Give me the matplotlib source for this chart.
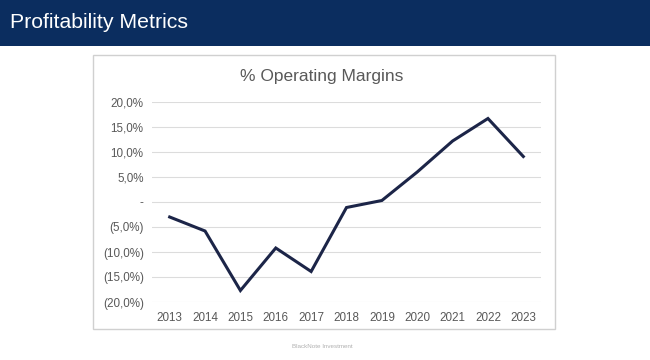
import matplotlib.pyplot as plt
from matplotlib.patches import Rectangle

# --- data ---
years = [2013, 2014, 2015, 2016, 2017, 2018, 2019, 2020, 2021, 2022, 2023]
operating_margin = [-3.0, -5.8, -17.7, -9.2, -13.9, -1.1, 0.3, 6.0, 12.2, 16.7, 9.1]
y_ticks = [20, 15, 10, 5, 0, -5, -10, -15, -20]
y_tick_labels = ["20,0%", "15,0%", "10,0%", "5,0%", "-",
                 "(5,0%)", "(10,0%)", "(15,0%)", "(20,0%)"]

plt.rcParams['font.family'] = ['Liberation Sans', 'DejaVu Sans']

W, H = 650, 360
fig = plt.figure(figsize=(W / 100, H / 100), dpi=100)
fig.patch.set_facecolor('white')

# header band
fig.patches.append(Rectangle((0, 1 - 46 / H), 1, 46 / H, transform=fig.transFigure,
                             facecolor='#0b2d5f', edgecolor='none', zorder=0))
fig.text(10 / W, 1 - 23 / H, "Profitability Metrics", color='white',
         fontsize=15.3, va='center', ha='left')

# chart frame
fig.patches.append(Rectangle((93 / W, 1 - 329 / H), (555 - 93) / W, (329 - 55) / H,
                             transform=fig.transFigure, facecolor='white',
                             edgecolor='#d0d0d0', linewidth=1.0, zorder=0))
fig.text(322 / W, 1 - 77 / H, "% Operating Margins", color='#595959',
         fontsize=12.5, ha='center', va='center')

ax = fig.add_axes([152 / W, 1 - 302 / H, (541 - 152) / W, 200 / H])
ax.set_zorder(2)
ax.plot(years, operating_margin, color='#1c2548', lw=2.2, solid_joinstyle='miter', zorder=3)

ax.set_xlim(years[0] - 0.5, years[-1] + 0.5)
ax.set_ylim(-20, 20)
ax.set_xticks(years)
ax.set_xticklabels([str(y) for y in years])
ax.set_yticks(y_ticks)
ax.set_yticklabels(y_tick_labels)
ax.grid(axis='y', color='#dcdcdc', lw=0.8)
ax.set_axisbelow(True)
for s in ax.spines.values():
    s.set_visible(False)
ax.tick_params(axis='both', length=0, labelsize=8.4, colors='#595959')
ax.tick_params(axis='x', pad=7)
ax.tick_params(axis='y', pad=6)
ax.patch.set_alpha(0)

fig.text(322 / W, 1 - 347 / H, "BlackNote Investment", color='#b0b0b0',
         fontsize=4.5, ha='center', va='center')

fig.savefig("out.png", dpi=100)
